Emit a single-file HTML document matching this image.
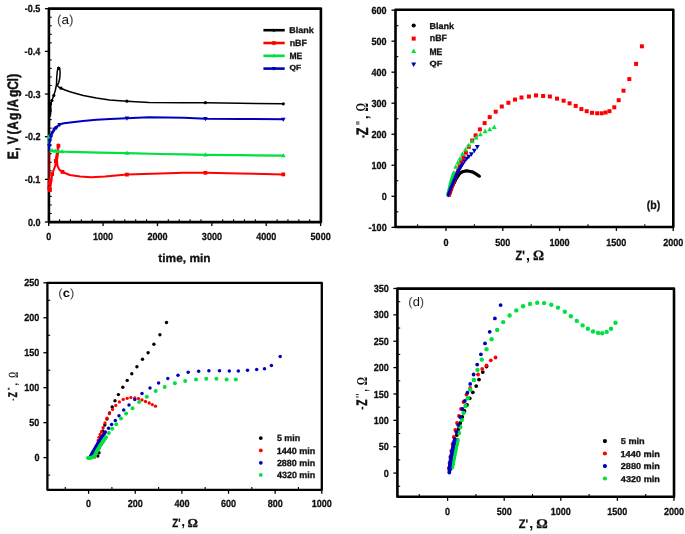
<!DOCTYPE html>
<html><head><meta charset="utf-8"><title>Figure</title>
<style>html,body{margin:0;padding:0;background:#fff;}body{width:685px;height:534px;overflow:hidden;font-family:"Liberation Sans",sans-serif;}svg{display:block;}</style>
</head><body>
<svg width="685" height="534" viewBox="0 0 685 534" style="will-change:transform" text-rendering="geometricPrecision">
<rect x="0" y="0" width="685" height="534" fill="#fff"/>
<rect x="48.9" y="8.6" width="272" height="213.5" fill="none" stroke="#000" stroke-linejoin="round" stroke-width="2.6"/>
<line x1="48.7" y1="222.1" x2="48.7" y2="226.1" stroke="#000" stroke-width="1.3"/>
<text transform="translate(46.21,240.01) scale(0.880,1)" font-family='"Liberation Sans", sans-serif' font-size="10.3" font-weight="bold" fill="#111" stroke="#111" stroke-width="0.3">0</text>
<line x1="59.58" y1="222.1" x2="59.58" y2="219.3" stroke="#000" stroke-width="1.1"/>
<line x1="70.45" y1="222.1" x2="70.45" y2="219.3" stroke="#000" stroke-width="1.1"/>
<line x1="81.33" y1="222.1" x2="81.33" y2="219.3" stroke="#000" stroke-width="1.1"/>
<line x1="92.2" y1="222.1" x2="92.2" y2="219.3" stroke="#000" stroke-width="1.1"/>
<line x1="103.08" y1="222.1" x2="103.08" y2="226.1" stroke="#000" stroke-width="1.3"/>
<text transform="translate(92.93,240.01) scale(0.880,1)" font-family='"Liberation Sans", sans-serif' font-size="10.3" font-weight="bold" fill="#111" stroke="#111" stroke-width="0.3">1000</text>
<line x1="113.96" y1="222.1" x2="113.96" y2="219.3" stroke="#000" stroke-width="1.1"/>
<line x1="124.83" y1="222.1" x2="124.83" y2="219.3" stroke="#000" stroke-width="1.1"/>
<line x1="135.71" y1="222.1" x2="135.71" y2="219.3" stroke="#000" stroke-width="1.1"/>
<line x1="146.58" y1="222.1" x2="146.58" y2="219.3" stroke="#000" stroke-width="1.1"/>
<line x1="157.46" y1="222.1" x2="157.46" y2="226.1" stroke="#000" stroke-width="1.3"/>
<text transform="translate(147.44,240.01) scale(0.880,1)" font-family='"Liberation Sans", sans-serif' font-size="10.3" font-weight="bold" fill="#111" stroke="#111" stroke-width="0.3">2000</text>
<line x1="168.34" y1="222.1" x2="168.34" y2="219.3" stroke="#000" stroke-width="1.1"/>
<line x1="179.21" y1="222.1" x2="179.21" y2="219.3" stroke="#000" stroke-width="1.1"/>
<line x1="190.09" y1="222.1" x2="190.09" y2="219.3" stroke="#000" stroke-width="1.1"/>
<line x1="200.96" y1="222.1" x2="200.96" y2="219.3" stroke="#000" stroke-width="1.1"/>
<line x1="211.84" y1="222.1" x2="211.84" y2="226.1" stroke="#000" stroke-width="1.3"/>
<text transform="translate(201.87,240.01) scale(0.880,1)" font-family='"Liberation Sans", sans-serif' font-size="10.3" font-weight="bold" fill="#111" stroke="#111" stroke-width="0.3">3000</text>
<line x1="222.72" y1="222.1" x2="222.72" y2="219.3" stroke="#000" stroke-width="1.1"/>
<line x1="233.59" y1="222.1" x2="233.59" y2="219.3" stroke="#000" stroke-width="1.1"/>
<line x1="244.47" y1="222.1" x2="244.47" y2="219.3" stroke="#000" stroke-width="1.1"/>
<line x1="255.34" y1="222.1" x2="255.34" y2="219.3" stroke="#000" stroke-width="1.1"/>
<line x1="266.22" y1="222.1" x2="266.22" y2="226.1" stroke="#000" stroke-width="1.3"/>
<text transform="translate(256.25,240.01) scale(0.880,1)" font-family='"Liberation Sans", sans-serif' font-size="10.3" font-weight="bold" fill="#111" stroke="#111" stroke-width="0.3">4000</text>
<line x1="277.1" y1="222.1" x2="277.1" y2="219.3" stroke="#000" stroke-width="1.1"/>
<line x1="287.97" y1="222.1" x2="287.97" y2="219.3" stroke="#000" stroke-width="1.1"/>
<line x1="298.85" y1="222.1" x2="298.85" y2="219.3" stroke="#000" stroke-width="1.1"/>
<line x1="309.72" y1="222.1" x2="309.72" y2="219.3" stroke="#000" stroke-width="1.1"/>
<line x1="320.6" y1="222.1" x2="320.6" y2="226.1" stroke="#000" stroke-width="1.3"/>
<text transform="translate(310.58,240.01) scale(0.880,1)" font-family='"Liberation Sans", sans-serif' font-size="10.3" font-weight="bold" fill="#111" stroke="#111" stroke-width="0.3">5000</text>
<line x1="44.9" y1="222" x2="48.9" y2="222" stroke="#000" stroke-width="1.3"/>
<text transform="translate(27.96,225.55) scale(0.880,1)" font-family='"Liberation Sans", sans-serif' font-size="10.3" font-weight="bold" fill="#111" stroke="#111" stroke-width="0.3">0.0</text>
<line x1="48.9" y1="213.47" x2="51.7" y2="213.47" stroke="#000" stroke-width="1.1"/>
<line x1="48.9" y1="204.94" x2="51.7" y2="204.94" stroke="#000" stroke-width="1.1"/>
<line x1="48.9" y1="196.4" x2="51.7" y2="196.4" stroke="#000" stroke-width="1.1"/>
<line x1="48.9" y1="187.87" x2="51.7" y2="187.87" stroke="#000" stroke-width="1.1"/>
<line x1="44.9" y1="179.34" x2="48.9" y2="179.34" stroke="#000" stroke-width="1.3"/>
<text transform="translate(24.79,182.89) scale(0.880,1)" font-family='"Liberation Sans", sans-serif' font-size="10.3" font-weight="bold" fill="#111" stroke="#111" stroke-width="0.3">-0.1</text>
<line x1="48.9" y1="170.81" x2="51.7" y2="170.81" stroke="#000" stroke-width="1.1"/>
<line x1="48.9" y1="162.28" x2="51.7" y2="162.28" stroke="#000" stroke-width="1.1"/>
<line x1="48.9" y1="153.74" x2="51.7" y2="153.74" stroke="#000" stroke-width="1.1"/>
<line x1="48.9" y1="145.21" x2="51.7" y2="145.21" stroke="#000" stroke-width="1.1"/>
<line x1="44.9" y1="136.68" x2="48.9" y2="136.68" stroke="#000" stroke-width="1.3"/>
<text transform="translate(24.97,140.23) scale(0.880,1)" font-family='"Liberation Sans", sans-serif' font-size="10.3" font-weight="bold" fill="#111" stroke="#111" stroke-width="0.3">-0.2</text>
<line x1="48.9" y1="128.15" x2="51.7" y2="128.15" stroke="#000" stroke-width="1.1"/>
<line x1="48.9" y1="119.62" x2="51.7" y2="119.62" stroke="#000" stroke-width="1.1"/>
<line x1="48.9" y1="111.08" x2="51.7" y2="111.08" stroke="#000" stroke-width="1.1"/>
<line x1="48.9" y1="102.55" x2="51.7" y2="102.55" stroke="#000" stroke-width="1.1"/>
<line x1="44.9" y1="94.02" x2="48.9" y2="94.02" stroke="#000" stroke-width="1.3"/>
<text transform="translate(24.88,97.57) scale(0.880,1)" font-family='"Liberation Sans", sans-serif' font-size="10.3" font-weight="bold" fill="#111" stroke="#111" stroke-width="0.3">-0.3</text>
<line x1="48.9" y1="85.49" x2="51.7" y2="85.49" stroke="#000" stroke-width="1.1"/>
<line x1="48.9" y1="76.96" x2="51.7" y2="76.96" stroke="#000" stroke-width="1.1"/>
<line x1="48.9" y1="68.42" x2="51.7" y2="68.42" stroke="#000" stroke-width="1.1"/>
<line x1="48.9" y1="59.89" x2="51.7" y2="59.89" stroke="#000" stroke-width="1.1"/>
<line x1="44.9" y1="51.36" x2="48.9" y2="51.36" stroke="#000" stroke-width="1.3"/>
<text transform="translate(24.61,54.91) scale(0.880,1)" font-family='"Liberation Sans", sans-serif' font-size="10.3" font-weight="bold" fill="#111" stroke="#111" stroke-width="0.3">-0.4</text>
<line x1="48.9" y1="42.83" x2="51.7" y2="42.83" stroke="#000" stroke-width="1.1"/>
<line x1="48.9" y1="34.3" x2="51.7" y2="34.3" stroke="#000" stroke-width="1.1"/>
<line x1="48.9" y1="25.76" x2="51.7" y2="25.76" stroke="#000" stroke-width="1.1"/>
<line x1="48.9" y1="17.23" x2="51.7" y2="17.23" stroke="#000" stroke-width="1.1"/>
<line x1="44.9" y1="8.7" x2="48.9" y2="8.7" stroke="#000" stroke-width="1.3"/>
<text transform="translate(24.79,12.25) scale(0.880,1)" font-family='"Liberation Sans", sans-serif' font-size="10.3" font-weight="bold" fill="#111" stroke="#111" stroke-width="0.3">-0.5</text>
<polyline points="49.2,150 49.3,130 49.5,116 50.2,108 50.6,103.5 50,108 49.6,114 50.3,116 51,110 50.6,103.5 51.9,100.6 53.8,95.4 55.3,90.5 56.5,84.5 56.7,78 57.2,72 58,68 58.7,67.2 59.6,68 60.1,72 59.8,78 58.6,83 57.3,85.5 58.5,86.8 61,88.2 65,90 70,91.8 76,93.5 83.3,95.4 96.4,98 109.5,99.9 126.9,101.2 148.9,102.5 184,102.7 205.4,102.7 240,103.2 283.3,103.8" fill="none" stroke="#000" stroke-width="1.5" stroke-linejoin="round" stroke-linecap="round"/>
<line x1="49.1" y1="151.5" x2="49.1" y2="184" stroke="#700" stroke-width="2.2"/>
<polyline points="49.5,188 50.5,186 51.5,179 52.2,174 53.7,169.9 55.3,165.7 56,158 57.5,150 58.4,144.5 58.2,152 57,160 57.5,166 59.4,169.9 62.5,171.9 66,173.5 69.7,175 80,176.5 91.2,177.2 105,176.5 126.9,174.6 160,173.5 184,172.7 205.4,172.8 240,173.4 283.3,174.4" fill="none" stroke="#f00" stroke-width="2" stroke-linejoin="round" stroke-linecap="round"/>
<polyline points="48.6,136.3 49,145 49.6,150.5 52,150.5 55.2,151 60,151.5 70.2,151.8 100,152.6 126.9,153.1 160,154 184,154.4 205.4,154.8 240,155.2 283.3,155.7" fill="none" stroke="#00e040" stroke-width="2.2" stroke-linejoin="round" stroke-linecap="round"/>
<polyline points="48.9,150.3 49.6,139 50.5,135 52.4,132 54.5,128.2 56.6,126.8 59.7,124.2 64,123.2 70.2,122.4 83,121 96.4,119.8 110,119 126.9,118.2 148.9,117.2 184,117.7 205.4,118.7 240,119 283.3,119.3" fill="none" stroke="#00b" stroke-width="2" stroke-linejoin="round" stroke-linecap="round"/>
<circle cx="126.9" cy="101.2" r="1.6" fill="#000"/>
<circle cx="205.4" cy="102.7" r="1.6" fill="#000"/>
<circle cx="283.3" cy="103.8" r="1.6" fill="#000"/>
<circle cx="61" cy="88.2" r="1.6" fill="#000"/>
<circle cx="53.8" cy="95.4" r="1.6" fill="#000"/>
<circle cx="51.9" cy="100.6" r="1.6" fill="#000"/>
<circle cx="50.6" cy="104" r="1.6" fill="#000"/>
<circle cx="58.6" cy="68.3" r="1.6" fill="#000"/>
<rect x="125" y="172.7" width="3.8" height="3.8" fill="#f00"/>
<rect x="203.5" y="170.9" width="3.8" height="3.8" fill="#f00"/>
<rect x="281.4" y="172.5" width="3.8" height="3.8" fill="#f00"/>
<rect x="60.6" y="170" width="3.8" height="3.8" fill="#f00"/>
<rect x="56.5" y="143.9" width="3.8" height="3.8" fill="#f00"/>
<rect x="53.9" y="159.1" width="3.8" height="3.8" fill="#f00"/>
<rect x="50.3" y="172.1" width="3.8" height="3.8" fill="#f00"/>
<rect x="48.6" y="178.1" width="3.8" height="3.8" fill="#f00"/>
<rect x="47.6" y="181.6" width="3.8" height="3.8" fill="#f00"/>
<rect x="47.3" y="186.1" width="3.8" height="3.8" fill="#f00"/>
<rect x="48.1" y="188.1" width="3.8" height="3.8" fill="#f00"/>
<polygon points="126.9,150.62 124.6,154.76 129.2,154.76" fill="#00e040"/>
<polygon points="205.4,152.32 203.1,156.46 207.7,156.46" fill="#00e040"/>
<polygon points="283.3,153.22 281,157.36 285.6,157.36" fill="#00e040"/>
<polygon points="49,134.02 46.7,138.16 51.3,138.16" fill="#00e040"/>
<polygon points="52,148.02 49.7,152.16 54.3,152.16" fill="#00e040"/>
<polygon points="55.2,148.52 52.9,152.66 57.5,152.66" fill="#00e040"/>
<polygon points="58,148.82 55.7,152.96 60.3,152.96" fill="#00e040"/>
<polygon points="62,149.02 59.7,153.16 64.3,153.16" fill="#00e040"/>
<polygon points="126.9,120.68 124.6,116.54 129.2,116.54" fill="#00b"/>
<polygon points="205.4,121.18 203.1,117.04 207.7,117.04" fill="#00b"/>
<polygon points="283.3,121.78 281,117.64 285.6,117.64" fill="#00b"/>
<polygon points="49.3,148.48 47,144.34 51.6,144.34" fill="#00b"/>
<polygon points="50,143.48 47.7,139.34 52.3,139.34" fill="#00b"/>
<polygon points="51,139.48 48.7,135.34 53.3,135.34" fill="#00b"/>
<polygon points="52.4,135.48 50.1,131.34 54.7,131.34" fill="#00b"/>
<polygon points="54.5,131.98 52.2,127.84 56.8,127.84" fill="#00b"/>
<polygon points="56.6,130.08 54.3,125.94 58.9,125.94" fill="#00b"/>
<polygon points="59.7,127.18 57.4,123.04 62,123.04" fill="#00b"/>
<line x1="263.4" y1="30.2" x2="284.7" y2="30.2" stroke="#000" stroke-width="2.6"/>
<circle cx="273.9" cy="30.2" r="1.5" fill="#000"/>
<text transform="translate(289.32,33.37) scale(1.072,1)" font-family='"Liberation Sans", sans-serif' font-size="8.38" font-weight="bold" fill="#111" stroke="#111" stroke-width="0.3">Blank</text>
<line x1="263.4" y1="43" x2="284.7" y2="43" stroke="#f00" stroke-width="2.6"/>
<rect x="272.1" y="41.2" width="3.6" height="3.6" fill="#f00"/>
<text transform="translate(289.63,45.65) scale(0.992,1)" font-family='"Liberation Sans", sans-serif' font-size="8.99" font-weight="bold" fill="#111" stroke="#111" stroke-width="0.3">nBF</text>
<line x1="263.4" y1="55.8" x2="284.7" y2="55.8" stroke="#00e040" stroke-width="2.6"/>
<polygon points="273.9,53.53 271.8,57.31 276,57.31" fill="#00e040"/>
<text transform="translate(289.45,58.65) scale(0.923,1)" font-family='"Liberation Sans", sans-serif' font-size="9.28" font-weight="bold" fill="#111" stroke="#111" stroke-width="0.3">ME</text>
<line x1="263.4" y1="68.6" x2="284.7" y2="68.6" stroke="#00b" stroke-width="2.6"/>
<polygon points="273.9,70.87 271.8,67.09 276,67.09" fill="#00b"/>
<text transform="translate(289.51,69.98) scale(1.145,1)" font-family='"Liberation Sans", sans-serif' font-size="7.33" font-weight="bold" fill="#111" stroke="#111" stroke-width="0.3">QF</text>
<text transform="translate(56.99,23.57) scale(1.044,1)" font-family='"Liberation Sans", sans-serif' font-size="12.98" font-weight="normal" fill="#444">(<tspan fill="#111">a</tspan>)</text>
<text transform="translate(158.33,261.91) scale(1.027,1)" font-family='"Liberation Sans", sans-serif' font-size="11.59" font-weight="bold" fill="#111" stroke="#111" stroke-width="0.3">time, min</text>
<text transform="translate(17.8,158.44) rotate(-90) scale(0.8,1)" font-family='"Liberation Sans", sans-serif' font-size="15" font-weight="bold" fill="#111" stroke="#111" stroke-width="0.45" letter-spacing="0.87" dx="-0.94 -0.19 0 -2 1.25 0 0.63 1.06 -0.63 1.31 -0.75 -1.38 -0.63">E, V(Ag/AgCl)</text>
<rect x="395.5" y="9.8" width="277.8" height="217.2" fill="none" stroke="#000" stroke-linejoin="round" stroke-width="2.6"/>
<line x1="417.6" y1="227" x2="417.6" y2="224.2" stroke="#000" stroke-width="1.1"/>
<line x1="446" y1="227" x2="446" y2="231" stroke="#000" stroke-width="1.3"/>
<text transform="translate(443.51,245.91) scale(0.880,1)" font-family='"Liberation Sans", sans-serif' font-size="10.3" font-weight="bold" fill="#111" stroke="#111" stroke-width="0.3">0</text>
<line x1="474.4" y1="227" x2="474.4" y2="224.2" stroke="#000" stroke-width="1.1"/>
<line x1="502.8" y1="227" x2="502.8" y2="231" stroke="#000" stroke-width="1.3"/>
<text transform="translate(495.28,245.91) scale(0.880,1)" font-family='"Liberation Sans", sans-serif' font-size="10.3" font-weight="bold" fill="#111" stroke="#111" stroke-width="0.3">500</text>
<line x1="531.2" y1="227" x2="531.2" y2="224.2" stroke="#000" stroke-width="1.1"/>
<line x1="559.6" y1="227" x2="559.6" y2="231" stroke="#000" stroke-width="1.3"/>
<text transform="translate(549.45,245.91) scale(0.880,1)" font-family='"Liberation Sans", sans-serif' font-size="10.3" font-weight="bold" fill="#111" stroke="#111" stroke-width="0.3">1000</text>
<line x1="588" y1="227" x2="588" y2="224.2" stroke="#000" stroke-width="1.1"/>
<line x1="616.4" y1="227" x2="616.4" y2="231" stroke="#000" stroke-width="1.3"/>
<text transform="translate(606.25,245.91) scale(0.880,1)" font-family='"Liberation Sans", sans-serif' font-size="10.3" font-weight="bold" fill="#111" stroke="#111" stroke-width="0.3">1500</text>
<line x1="644.8" y1="227" x2="644.8" y2="224.2" stroke="#000" stroke-width="1.1"/>
<line x1="673.2" y1="227" x2="673.2" y2="231" stroke="#000" stroke-width="1.3"/>
<text transform="translate(663.18,245.91) scale(0.880,1)" font-family='"Liberation Sans", sans-serif' font-size="10.3" font-weight="bold" fill="#111" stroke="#111" stroke-width="0.3">2000</text>
<line x1="391.5" y1="227.33" x2="395.5" y2="227.33" stroke="#000" stroke-width="1.3"/>
<text transform="translate(368.53,230.88) scale(0.880,1)" font-family='"Liberation Sans", sans-serif' font-size="10.3" font-weight="bold" fill="#111" stroke="#111" stroke-width="0.3">-100</text>
<line x1="395.5" y1="211.81" x2="398.3" y2="211.81" stroke="#000" stroke-width="1.1"/>
<line x1="391.5" y1="196.3" x2="395.5" y2="196.3" stroke="#000" stroke-width="1.3"/>
<text transform="translate(381.68,199.85) scale(0.880,1)" font-family='"Liberation Sans", sans-serif' font-size="10.3" font-weight="bold" fill="#111" stroke="#111" stroke-width="0.3">0</text>
<line x1="395.5" y1="180.79" x2="398.3" y2="180.79" stroke="#000" stroke-width="1.1"/>
<line x1="391.5" y1="165.27" x2="395.5" y2="165.27" stroke="#000" stroke-width="1.3"/>
<text transform="translate(371.53,168.82) scale(0.880,1)" font-family='"Liberation Sans", sans-serif' font-size="10.3" font-weight="bold" fill="#111" stroke="#111" stroke-width="0.3">100</text>
<line x1="395.5" y1="149.76" x2="398.3" y2="149.76" stroke="#000" stroke-width="1.1"/>
<line x1="391.5" y1="134.24" x2="395.5" y2="134.24" stroke="#000" stroke-width="1.3"/>
<text transform="translate(371.53,137.8) scale(0.880,1)" font-family='"Liberation Sans", sans-serif' font-size="10.3" font-weight="bold" fill="#111" stroke="#111" stroke-width="0.3">200</text>
<line x1="395.5" y1="118.73" x2="398.3" y2="118.73" stroke="#000" stroke-width="1.1"/>
<line x1="391.5" y1="103.21" x2="395.5" y2="103.21" stroke="#000" stroke-width="1.3"/>
<text transform="translate(371.53,106.77) scale(0.880,1)" font-family='"Liberation Sans", sans-serif' font-size="10.3" font-weight="bold" fill="#111" stroke="#111" stroke-width="0.3">300</text>
<line x1="395.5" y1="87.7" x2="398.3" y2="87.7" stroke="#000" stroke-width="1.1"/>
<line x1="391.5" y1="72.19" x2="395.5" y2="72.19" stroke="#000" stroke-width="1.3"/>
<text transform="translate(371.53,75.74) scale(0.880,1)" font-family='"Liberation Sans", sans-serif' font-size="10.3" font-weight="bold" fill="#111" stroke="#111" stroke-width="0.3">400</text>
<line x1="395.5" y1="56.67" x2="398.3" y2="56.67" stroke="#000" stroke-width="1.1"/>
<line x1="391.5" y1="41.16" x2="395.5" y2="41.16" stroke="#000" stroke-width="1.3"/>
<text transform="translate(371.53,44.71) scale(0.880,1)" font-family='"Liberation Sans", sans-serif' font-size="10.3" font-weight="bold" fill="#111" stroke="#111" stroke-width="0.3">500</text>
<line x1="395.5" y1="25.64" x2="398.3" y2="25.64" stroke="#000" stroke-width="1.1"/>
<line x1="391.5" y1="10.13" x2="395.5" y2="10.13" stroke="#000" stroke-width="1.3"/>
<text transform="translate(371.53,13.68) scale(0.880,1)" font-family='"Liberation Sans", sans-serif' font-size="10.3" font-weight="bold" fill="#111" stroke="#111" stroke-width="0.3">600</text>
<circle cx="448.4" cy="195.3" r="1.6" fill="#000"/>
<circle cx="448.88" cy="194.2" r="1.6" fill="#000"/>
<circle cx="449.35" cy="193.1" r="1.6" fill="#000"/>
<circle cx="449.82" cy="192" r="1.6" fill="#000"/>
<circle cx="450.3" cy="190.9" r="1.6" fill="#000"/>
<circle cx="450.77" cy="189.8" r="1.6" fill="#000"/>
<circle cx="451.25" cy="188.7" r="1.6" fill="#000"/>
<circle cx="451.72" cy="187.6" r="1.6" fill="#000"/>
<circle cx="452.2" cy="186.5" r="1.6" fill="#000"/>
<circle cx="452.74" cy="185.43" r="1.6" fill="#000"/>
<circle cx="453.29" cy="184.36" r="1.6" fill="#000"/>
<circle cx="453.83" cy="183.29" r="1.6" fill="#000"/>
<circle cx="454.37" cy="182.21" r="1.6" fill="#000"/>
<circle cx="454.91" cy="181.14" r="1.6" fill="#000"/>
<circle cx="455.46" cy="180.07" r="1.6" fill="#000"/>
<circle cx="456" cy="179" r="1.6" fill="#000"/>
<circle cx="456.72" cy="177.92" r="1.6" fill="#000"/>
<circle cx="457.44" cy="176.84" r="1.6" fill="#000"/>
<circle cx="458.16" cy="175.76" r="1.6" fill="#000"/>
<circle cx="458.88" cy="174.68" r="1.6" fill="#000"/>
<circle cx="459.6" cy="173.6" r="1.6" fill="#000"/>
<circle cx="460.43" cy="173" r="1.6" fill="#000"/>
<circle cx="461.27" cy="172.4" r="1.6" fill="#000"/>
<circle cx="462.1" cy="171.8" r="1.6" fill="#000"/>
<circle cx="463.07" cy="171.53" r="1.6" fill="#000"/>
<circle cx="464.03" cy="171.27" r="1.6" fill="#000"/>
<circle cx="465" cy="171" r="1.6" fill="#000"/>
<circle cx="466.1" cy="170.95" r="1.6" fill="#000"/>
<circle cx="467.2" cy="170.9" r="1.6" fill="#000"/>
<circle cx="468.6" cy="171.1" r="1.6" fill="#000"/>
<circle cx="470" cy="171.3" r="1.6" fill="#000"/>
<circle cx="471.03" cy="171.6" r="1.6" fill="#000"/>
<circle cx="472.07" cy="171.9" r="1.6" fill="#000"/>
<circle cx="473.1" cy="172.2" r="1.6" fill="#000"/>
<circle cx="474.07" cy="172.77" r="1.6" fill="#000"/>
<circle cx="475.03" cy="173.33" r="1.6" fill="#000"/>
<circle cx="476" cy="173.9" r="1.6" fill="#000"/>
<circle cx="477.1" cy="174.67" r="1.6" fill="#000"/>
<circle cx="478.2" cy="175.43" r="1.6" fill="#000"/>
<circle cx="479.3" cy="176.2" r="1.6" fill="#000"/>
<rect x="448" y="193.8" width="3" height="3" fill="#f00"/>
<rect x="448.5" y="192.37" width="3" height="3" fill="#f00"/>
<rect x="449" y="190.93" width="3" height="3" fill="#f00"/>
<rect x="449.5" y="189.5" width="3" height="3" fill="#f00"/>
<rect x="450" y="188" width="3" height="3" fill="#f00"/>
<rect x="450.5" y="186.5" width="3" height="3" fill="#f00"/>
<rect x="451" y="185" width="3" height="3" fill="#f00"/>
<rect x="451.5" y="183.5" width="3" height="3" fill="#f00"/>
<rect x="452" y="182" width="3" height="3" fill="#f00"/>
<rect x="452.5" y="180.5" width="3" height="3" fill="#f00"/>
<rect x="453" y="179" width="3" height="3" fill="#f00"/>
<rect x="453.5" y="177.5" width="3" height="3" fill="#f00"/>
<rect x="454" y="176" width="3" height="3" fill="#f00"/>
<rect x="454.43" y="174.67" width="3" height="3" fill="#f00"/>
<rect x="454.87" y="173.33" width="3" height="3" fill="#f00"/>
<rect x="455.3" y="172" width="3" height="3" fill="#f00"/>
<rect x="455.77" y="170.67" width="3" height="3" fill="#f00"/>
<rect x="456.23" y="169.33" width="3" height="3" fill="#f00"/>
<rect x="456.7" y="168" width="3" height="3" fill="#f00"/>
<rect x="457.6" y="164.2" width="4" height="4" fill="#f00"/>
<rect x="459.3" y="159.5" width="4" height="4" fill="#f00"/>
<rect x="461.4" y="155.3" width="4" height="4" fill="#f00"/>
<rect x="463.9" y="150.7" width="4" height="4" fill="#f00"/>
<rect x="466.8" y="144.8" width="4" height="4" fill="#f00"/>
<rect x="470.2" y="138.5" width="4" height="4" fill="#f00"/>
<rect x="473.6" y="133.4" width="4" height="4" fill="#f00"/>
<rect x="477.9" y="127.4" width="4" height="4" fill="#f00"/>
<rect x="482.6" y="121.1" width="4" height="4" fill="#f00"/>
<rect x="487.7" y="115.1" width="4" height="4" fill="#f00"/>
<rect x="493.7" y="109.7" width="4" height="4" fill="#f00"/>
<rect x="499.8" y="104.5" width="4" height="4" fill="#f00"/>
<rect x="506.4" y="100.8" width="4" height="4" fill="#f00"/>
<rect x="513" y="97.6" width="4" height="4" fill="#f00"/>
<rect x="519.5" y="95.5" width="4" height="4" fill="#f00"/>
<rect x="526.9" y="94.5" width="4" height="4" fill="#f00"/>
<rect x="534" y="93.4" width="4" height="4" fill="#f00"/>
<rect x="541.1" y="94" width="4" height="4" fill="#f00"/>
<rect x="547.9" y="94.5" width="4" height="4" fill="#f00"/>
<rect x="555" y="96.6" width="4" height="4" fill="#f00"/>
<rect x="561.6" y="98.7" width="4" height="4" fill="#f00"/>
<rect x="567.6" y="101.3" width="4" height="4" fill="#f00"/>
<rect x="573.7" y="103.9" width="4" height="4" fill="#f00"/>
<rect x="579.4" y="107.1" width="4" height="4" fill="#f00"/>
<rect x="584.7" y="109.2" width="4" height="4" fill="#f00"/>
<rect x="590" y="110.8" width="4" height="4" fill="#f00"/>
<rect x="595.2" y="111.3" width="4" height="4" fill="#f00"/>
<rect x="599.7" y="111.3" width="4" height="4" fill="#f00"/>
<rect x="603.6" y="110.5" width="4" height="4" fill="#f00"/>
<rect x="607.5" y="109.2" width="4" height="4" fill="#f00"/>
<rect x="612.3" y="105.3" width="4" height="4" fill="#f00"/>
<rect x="616.7" y="98.2" width="4" height="4" fill="#f00"/>
<rect x="621.5" y="88.7" width="4" height="4" fill="#f00"/>
<rect x="627.3" y="77.1" width="4" height="4" fill="#f00"/>
<rect x="634.1" y="61.9" width="4" height="4" fill="#f00"/>
<rect x="639.9" y="44.3" width="4" height="4" fill="#f00"/>
<polygon points="447.8,192.34 445.8,195.94 449.8,195.94" fill="#00e040"/>
<polygon points="448.13,190.84 446.13,194.44 450.13,194.44" fill="#00e040"/>
<polygon points="448.47,189.34 446.47,192.94 450.47,192.94" fill="#00e040"/>
<polygon points="448.8,187.84 446.8,191.44 450.8,191.44" fill="#00e040"/>
<polygon points="449.07,186.59 447.07,190.19 451.07,190.19" fill="#00e040"/>
<polygon points="449.35,185.34 447.35,188.94 451.35,188.94" fill="#00e040"/>
<polygon points="449.62,184.09 447.62,187.69 451.62,187.69" fill="#00e040"/>
<polygon points="449.9,182.84 447.9,186.44 451.9,186.44" fill="#00e040"/>
<polygon points="450.2,181.59 448.2,185.19 452.2,185.19" fill="#00e040"/>
<polygon points="450.5,180.34 448.5,183.94 452.5,183.94" fill="#00e040"/>
<polygon points="450.8,179.09 448.8,182.69 452.8,182.69" fill="#00e040"/>
<polygon points="451.1,177.84 449.1,181.44 453.1,181.44" fill="#00e040"/>
<polygon points="451.53,176.51 449.53,180.11 453.53,180.11" fill="#00e040"/>
<polygon points="451.97,175.17 449.97,178.77 453.97,178.77" fill="#00e040"/>
<polygon points="452.4,173.84 450.4,177.44 454.4,177.44" fill="#00e040"/>
<polygon points="452.87,172.54 450.87,176.14 454.87,176.14" fill="#00e040"/>
<polygon points="453.33,171.24 451.33,174.84 455.33,174.84" fill="#00e040"/>
<polygon points="453.8,169.94 451.8,173.54 455.8,173.54" fill="#00e040"/>
<polygon points="455.8,164.3 453.3,168.8 458.3,168.8" fill="#00e040"/>
<polygon points="457.9,160.1 455.4,164.6 460.4,164.6" fill="#00e040"/>
<polygon points="460,155.9 457.5,160.4 462.5,160.4" fill="#00e040"/>
<polygon points="462.5,151.3 460,155.8 465,155.8" fill="#00e040"/>
<polygon points="465.5,147 463,151.5 468,151.5" fill="#00e040"/>
<polygon points="468.8,142.8 466.3,147.3 471.3,147.3" fill="#00e040"/>
<polygon points="472.2,138.8 469.7,143.3 474.7,143.3" fill="#00e040"/>
<polygon points="476.2,135.1 473.7,139.6 478.7,139.6" fill="#00e040"/>
<polygon points="480.4,131.7 477.9,136.2 482.9,136.2" fill="#00e040"/>
<polygon points="485.1,128.8 482.6,133.3 487.6,133.3" fill="#00e040"/>
<polygon points="489.7,126.7 487.2,131.2 492.2,131.2" fill="#00e040"/>
<polygon points="494.2,124.5 491.7,129 496.7,129" fill="#00e040"/>
<polygon points="448.3,197.46 446.3,193.86 450.3,193.86" fill="#00b"/>
<polygon points="448.7,196.4 446.7,192.8 450.7,192.8" fill="#00b"/>
<polygon points="449.1,195.34 447.1,191.74 451.1,191.74" fill="#00b"/>
<polygon points="449.5,194.28 447.5,190.68 451.5,190.68" fill="#00b"/>
<polygon points="449.9,193.22 447.9,189.62 451.9,189.62" fill="#00b"/>
<polygon points="450.3,192.16 448.3,188.56 452.3,188.56" fill="#00b"/>
<polygon points="450.8,190.91 448.8,187.31 452.8,187.31" fill="#00b"/>
<polygon points="451.3,189.66 449.3,186.06 453.3,186.06" fill="#00b"/>
<polygon points="451.8,188.41 449.8,184.81 453.8,184.81" fill="#00b"/>
<polygon points="452.3,187.16 450.3,183.56 454.3,183.56" fill="#00b"/>
<polygon points="452.8,185.98 450.8,182.38 454.8,182.38" fill="#00b"/>
<polygon points="453.3,184.81 451.3,181.21 455.3,181.21" fill="#00b"/>
<polygon points="453.8,183.64 451.8,180.04 455.8,180.04" fill="#00b"/>
<polygon points="454.3,182.46 452.3,178.86 456.3,178.86" fill="#00b"/>
<polygon points="454.8,181.34 452.8,177.74 456.8,177.74" fill="#00b"/>
<polygon points="455.3,180.21 453.3,176.61 457.3,176.61" fill="#00b"/>
<polygon points="455.8,179.09 453.8,175.49 457.8,175.49" fill="#00b"/>
<polygon points="456.3,177.96 454.3,174.36 458.3,174.36" fill="#00b"/>
<polygon points="456.8,176.91 454.8,173.31 458.8,173.31" fill="#00b"/>
<polygon points="457.3,175.86 455.3,172.26 459.3,172.26" fill="#00b"/>
<polygon points="457.8,174.81 455.8,171.21 459.8,171.21" fill="#00b"/>
<polygon points="458.3,173.76 456.3,170.16 460.3,170.16" fill="#00b"/>
<polygon points="458.97,172.56 456.97,168.96 460.97,168.96" fill="#00b"/>
<polygon points="459.63,171.36 457.63,167.76 461.63,167.76" fill="#00b"/>
<polygon points="460.3,170.16 458.3,166.56 462.3,166.56" fill="#00b"/>
<polygon points="461,169.06 459,165.46 463,165.46" fill="#00b"/>
<polygon points="461.7,167.96 459.7,164.36 463.7,164.36" fill="#00b"/>
<polygon points="462.35,166.86 460.35,163.26 464.35,163.26" fill="#00b"/>
<polygon points="463,165.76 461,162.16 465,162.16" fill="#00b"/>
<polygon points="464.6,163.8 462.1,159.3 467.1,159.3" fill="#00b"/>
<polygon points="466.7,161.3 464.2,156.8 469.2,156.8" fill="#00b"/>
<polygon points="468.8,159.2 466.3,154.7 471.3,154.7" fill="#00b"/>
<polygon points="471.4,156.7 468.9,152.2 473.9,152.2" fill="#00b"/>
<polygon points="474.3,153.3 471.8,148.8 476.8,148.8" fill="#00b"/>
<polygon points="477.3,149.5 474.8,145 479.8,145" fill="#00b"/>
<circle cx="413.7" cy="25.5" r="2.1" fill="#000"/>
<text transform="translate(429.42,28.56) scale(1.043,1)" font-family='"Liberation Sans", sans-serif' font-size="8.65" font-weight="bold" fill="#111" stroke="#111" stroke-width="0.3">Blank</text>
<rect x="411.7" y="36.6" width="4" height="4" fill="#f00"/>
<text transform="translate(429.73,41.25) scale(0.955,1)" font-family='"Liberation Sans", sans-serif' font-size="9.28" font-weight="bold" fill="#111" stroke="#111" stroke-width="0.3">nBF</text>
<polygon points="413.7,48.6 411.2,53.1 416.2,53.1" fill="#00e040"/>
<text transform="translate(429.45,54.65) scale(0.895,1)" font-family='"Liberation Sans", sans-serif' font-size="9.57" font-weight="bold" fill="#111" stroke="#111" stroke-width="0.3">ME</text>
<polygon points="413.7,66.9 411.2,62.4 416.2,62.4" fill="#00b"/>
<text transform="translate(429.48,65.76) scale(1.241,1)" font-family='"Liberation Sans", sans-serif' font-size="7.44" font-weight="bold" fill="#111" stroke="#111" stroke-width="0.3">QF</text>
<text transform="translate(646.82,208.99) scale(0.905,1)" font-family='"Liberation Sans", sans-serif' font-size="11.7" font-weight="bold" fill="#111" stroke="#111" stroke-width="0.3">(b)</text>
<rect x="362.3" y="135.4" width="2.2" height="2.2" fill="#111"/>
<text transform="translate(367.55,135.33) rotate(-90) scale(0.770,1)" font-family='"Liberation Sans", sans-serif' font-size="16.52" font-weight="bold" fill="#111" stroke="#111" stroke-width="0.5">Z</text>
<rect x="356" y="121.6" width="3.4" height="1" fill="#222"/>
<rect x="356" y="123.5" width="3.4" height="1" fill="#222"/>
<text transform="translate(368.06,120.57) rotate(-90) scale(1.227,1)" font-family='"Liberation Sans", sans-serif' font-size="18.75" font-weight="normal" fill="#111">,</text>
<text transform="translate(368.12,111.53) rotate(-90) scale(0.586,1)" font-family='"Liberation Serif", serif' font-size="18.03" font-weight="bold" fill="#111">Ω</text>
<text transform="translate(515.52,259.85) scale(0.818,1)" font-family='"Liberation Sans", sans-serif' font-size="13.33" font-weight="bold" fill="#111" stroke="#111" stroke-width="0.3">Z'</text>
<text transform="translate(524.73,259.56) scale(1.227,1)" font-family='"Liberation Sans", sans-serif' font-size="18.75" font-weight="normal" fill="#111">,</text>
<text transform="translate(533.06,259.91) scale(0.969,1)" font-family='"Liberation Serif", serif' font-size="14.24" font-weight="bold" fill="#111" stroke="#111" stroke-width="0.3">Ω</text>
<rect x="47.4" y="282.8" width="274.4" height="207" fill="none" stroke="#000" stroke-linejoin="round" stroke-width="2.3"/>
<line x1="65.28" y1="489.8" x2="65.28" y2="487" stroke="#000" stroke-width="1.1"/>
<line x1="88.6" y1="489.8" x2="88.6" y2="493.8" stroke="#000" stroke-width="1.3"/>
<text transform="translate(86.11,507.21) scale(0.880,1)" font-family='"Liberation Sans", sans-serif' font-size="10.3" font-weight="bold" fill="#111" stroke="#111" stroke-width="0.3">0</text>
<line x1="111.92" y1="489.8" x2="111.92" y2="487" stroke="#000" stroke-width="1.1"/>
<line x1="135.24" y1="489.8" x2="135.24" y2="493.8" stroke="#000" stroke-width="1.3"/>
<text transform="translate(127.72,507.21) scale(0.880,1)" font-family='"Liberation Sans", sans-serif' font-size="10.3" font-weight="bold" fill="#111" stroke="#111" stroke-width="0.3">200</text>
<line x1="158.56" y1="489.8" x2="158.56" y2="487" stroke="#000" stroke-width="1.1"/>
<line x1="181.88" y1="489.8" x2="181.88" y2="493.8" stroke="#000" stroke-width="1.3"/>
<text transform="translate(174.4,507.21) scale(0.880,1)" font-family='"Liberation Sans", sans-serif' font-size="10.3" font-weight="bold" fill="#111" stroke="#111" stroke-width="0.3">400</text>
<line x1="205.2" y1="489.8" x2="205.2" y2="487" stroke="#000" stroke-width="1.1"/>
<line x1="228.52" y1="489.8" x2="228.52" y2="493.8" stroke="#000" stroke-width="1.3"/>
<text transform="translate(220.95,507.21) scale(0.880,1)" font-family='"Liberation Sans", sans-serif' font-size="10.3" font-weight="bold" fill="#111" stroke="#111" stroke-width="0.3">600</text>
<line x1="251.84" y1="489.8" x2="251.84" y2="487" stroke="#000" stroke-width="1.1"/>
<line x1="275.16" y1="489.8" x2="275.16" y2="493.8" stroke="#000" stroke-width="1.3"/>
<text transform="translate(267.64,507.21) scale(0.880,1)" font-family='"Liberation Sans", sans-serif' font-size="10.3" font-weight="bold" fill="#111" stroke="#111" stroke-width="0.3">800</text>
<line x1="298.48" y1="489.8" x2="298.48" y2="487" stroke="#000" stroke-width="1.1"/>
<line x1="321.8" y1="489.8" x2="321.8" y2="493.8" stroke="#000" stroke-width="1.3"/>
<text transform="translate(311.65,507.21) scale(0.880,1)" font-family='"Liberation Sans", sans-serif' font-size="10.3" font-weight="bold" fill="#111" stroke="#111" stroke-width="0.3">1000</text>
<line x1="47.4" y1="475.08" x2="50.2" y2="475.08" stroke="#000" stroke-width="1.1"/>
<line x1="43.4" y1="457.6" x2="47.4" y2="457.6" stroke="#000" stroke-width="1.3"/>
<text transform="translate(34.38,461.15) scale(0.880,1)" font-family='"Liberation Sans", sans-serif' font-size="10.3" font-weight="bold" fill="#111" stroke="#111" stroke-width="0.3">0</text>
<line x1="47.4" y1="440.12" x2="50.2" y2="440.12" stroke="#000" stroke-width="1.1"/>
<line x1="43.4" y1="422.64" x2="47.4" y2="422.64" stroke="#000" stroke-width="1.3"/>
<text transform="translate(29.3,426.19) scale(0.880,1)" font-family='"Liberation Sans", sans-serif' font-size="10.3" font-weight="bold" fill="#111" stroke="#111" stroke-width="0.3">50</text>
<line x1="47.4" y1="405.16" x2="50.2" y2="405.16" stroke="#000" stroke-width="1.1"/>
<line x1="43.4" y1="387.68" x2="47.4" y2="387.68" stroke="#000" stroke-width="1.3"/>
<text transform="translate(24.23,391.23) scale(0.880,1)" font-family='"Liberation Sans", sans-serif' font-size="10.3" font-weight="bold" fill="#111" stroke="#111" stroke-width="0.3">100</text>
<line x1="47.4" y1="370.2" x2="50.2" y2="370.2" stroke="#000" stroke-width="1.1"/>
<line x1="43.4" y1="352.72" x2="47.4" y2="352.72" stroke="#000" stroke-width="1.3"/>
<text transform="translate(24.23,356.27) scale(0.880,1)" font-family='"Liberation Sans", sans-serif' font-size="10.3" font-weight="bold" fill="#111" stroke="#111" stroke-width="0.3">150</text>
<line x1="47.4" y1="335.24" x2="50.2" y2="335.24" stroke="#000" stroke-width="1.1"/>
<line x1="43.4" y1="317.76" x2="47.4" y2="317.76" stroke="#000" stroke-width="1.3"/>
<text transform="translate(24.23,321.31) scale(0.880,1)" font-family='"Liberation Sans", sans-serif' font-size="10.3" font-weight="bold" fill="#111" stroke="#111" stroke-width="0.3">200</text>
<line x1="47.4" y1="300.28" x2="50.2" y2="300.28" stroke="#000" stroke-width="1.1"/>
<line x1="43.4" y1="282.8" x2="47.4" y2="282.8" stroke="#000" stroke-width="1.3"/>
<text transform="translate(24.23,286.35) scale(0.880,1)" font-family='"Liberation Sans", sans-serif' font-size="10.3" font-weight="bold" fill="#111" stroke="#111" stroke-width="0.3">250</text>
<circle cx="166.5" cy="322.5" r="1.7" fill="#000"/>
<circle cx="159.9" cy="334.7" r="1.7" fill="#000"/>
<circle cx="153.9" cy="344.3" r="1.7" fill="#000"/>
<circle cx="148.1" cy="352.7" r="1.7" fill="#000"/>
<circle cx="142.5" cy="359.3" r="1.7" fill="#000"/>
<circle cx="136.9" cy="366.7" r="1.7" fill="#000"/>
<circle cx="131.8" cy="373.7" r="1.7" fill="#000"/>
<circle cx="127.2" cy="380.4" r="1.7" fill="#000"/>
<circle cx="122.8" cy="387.2" r="1.7" fill="#000"/>
<circle cx="118.4" cy="394.6" r="1.7" fill="#000"/>
<circle cx="115" cy="400.8" r="1.7" fill="#000"/>
<circle cx="112.2" cy="407" r="1.7" fill="#000"/>
<circle cx="109.5" cy="413" r="1.7" fill="#000"/>
<circle cx="107" cy="419" r="1.7" fill="#000"/>
<circle cx="104.8" cy="425" r="1.7" fill="#000"/>
<circle cx="102.8" cy="431" r="1.7" fill="#000"/>
<circle cx="101" cy="437" r="1.7" fill="#000"/>
<circle cx="99.8" cy="443" r="1.7" fill="#000"/>
<circle cx="99" cy="448" r="1.7" fill="#000"/>
<circle cx="99" cy="452.8" r="1.7" fill="#000"/>
<circle cx="97.8" cy="456" r="1.7" fill="#000"/>
<circle cx="155.5" cy="406.2" r="1.65" fill="#f00"/>
<circle cx="152.3" cy="404.6" r="1.65" fill="#f00"/>
<circle cx="149.2" cy="403" r="1.65" fill="#f00"/>
<circle cx="145.5" cy="401.5" r="1.65" fill="#f00"/>
<circle cx="142" cy="399.9" r="1.65" fill="#f00"/>
<circle cx="138.5" cy="398.6" r="1.65" fill="#f00"/>
<circle cx="134.8" cy="398" r="1.65" fill="#f00"/>
<circle cx="130.9" cy="397.6" r="1.65" fill="#f00"/>
<circle cx="127.2" cy="398.3" r="1.65" fill="#f00"/>
<circle cx="123.2" cy="399.4" r="1.65" fill="#f00"/>
<circle cx="119.4" cy="401.9" r="1.65" fill="#f00"/>
<circle cx="115.8" cy="405.4" r="1.65" fill="#f00"/>
<circle cx="112.6" cy="409.4" r="1.65" fill="#f00"/>
<circle cx="109.4" cy="413.7" r="1.65" fill="#f00"/>
<circle cx="107" cy="418.2" r="1.65" fill="#f00"/>
<circle cx="105" cy="422.9" r="1.65" fill="#f00"/>
<circle cx="103.1" cy="427.7" r="1.65" fill="#f00"/>
<circle cx="101.5" cy="431.7" r="1.65" fill="#f00"/>
<circle cx="100.2" cy="434.5" r="1.65" fill="#f00"/>
<circle cx="99" cy="437.3" r="1.65" fill="#f00"/>
<circle cx="98.2" cy="440.5" r="1.65" fill="#f00"/>
<circle cx="97.4" cy="444" r="1.65" fill="#f00"/>
<circle cx="96.6" cy="447.5" r="1.65" fill="#f00"/>
<circle cx="95.8" cy="451" r="1.65" fill="#f00"/>
<circle cx="95" cy="454" r="1.65" fill="#f00"/>
<circle cx="94.6" cy="457" r="1.65" fill="#f00"/>
<circle cx="280.2" cy="356.6" r="1.75" fill="#0000c0"/>
<circle cx="271.4" cy="365.5" r="1.75" fill="#0000c0"/>
<circle cx="264.5" cy="368.8" r="1.75" fill="#0000c0"/>
<circle cx="256.7" cy="369.6" r="1.75" fill="#0000c0"/>
<circle cx="247.5" cy="370.2" r="1.75" fill="#0000c0"/>
<circle cx="238.3" cy="371.1" r="1.75" fill="#0000c0"/>
<circle cx="229.3" cy="371.1" r="1.75" fill="#0000c0"/>
<circle cx="219.5" cy="370.7" r="1.75" fill="#0000c0"/>
<circle cx="208.9" cy="370.7" r="1.75" fill="#0000c0"/>
<circle cx="198.6" cy="371.3" r="1.75" fill="#0000c0"/>
<circle cx="188.2" cy="372.3" r="1.75" fill="#0000c0"/>
<circle cx="178" cy="375.2" r="1.75" fill="#0000c0"/>
<circle cx="167.8" cy="378.4" r="1.75" fill="#0000c0"/>
<circle cx="158.6" cy="382.9" r="1.75" fill="#0000c0"/>
<circle cx="150" cy="388" r="1.75" fill="#0000c0"/>
<circle cx="142" cy="393.5" r="1.75" fill="#0000c0"/>
<circle cx="134.8" cy="399.4" r="1.75" fill="#0000c0"/>
<circle cx="129" cy="405" r="1.75" fill="#0000c0"/>
<circle cx="123.7" cy="409.9" r="1.75" fill="#0000c0"/>
<circle cx="119" cy="415.8" r="1.75" fill="#0000c0"/>
<circle cx="115.3" cy="420.5" r="1.75" fill="#0000c0"/>
<circle cx="111.6" cy="424.5" r="1.75" fill="#0000c0"/>
<circle cx="108.6" cy="428.3" r="1.75" fill="#0000c0"/>
<circle cx="105.3" cy="432.1" r="1.75" fill="#0000c0"/>
<circle cx="104.38" cy="433.45" r="1.75" fill="#0000c0"/>
<circle cx="103.45" cy="434.8" r="1.75" fill="#0000c0"/>
<circle cx="102.52" cy="436.15" r="1.75" fill="#0000c0"/>
<circle cx="101.6" cy="437.5" r="1.75" fill="#0000c0"/>
<circle cx="100.78" cy="438.8" r="1.75" fill="#0000c0"/>
<circle cx="99.96" cy="440.1" r="1.75" fill="#0000c0"/>
<circle cx="99.14" cy="441.4" r="1.75" fill="#0000c0"/>
<circle cx="98.32" cy="442.7" r="1.75" fill="#0000c0"/>
<circle cx="97.5" cy="444" r="1.75" fill="#0000c0"/>
<circle cx="96.62" cy="445.5" r="1.75" fill="#0000c0"/>
<circle cx="95.75" cy="447" r="1.75" fill="#0000c0"/>
<circle cx="94.88" cy="448.5" r="1.75" fill="#0000c0"/>
<circle cx="94" cy="450" r="1.75" fill="#0000c0"/>
<circle cx="93.3" cy="451.26" r="1.75" fill="#0000c0"/>
<circle cx="92.6" cy="452.52" r="1.75" fill="#0000c0"/>
<circle cx="91.9" cy="453.78" r="1.75" fill="#0000c0"/>
<circle cx="91.2" cy="455.04" r="1.75" fill="#0000c0"/>
<circle cx="90.5" cy="456.3" r="1.75" fill="#0000c0"/>
<circle cx="235.8" cy="379.4" r="2" fill="#00e040"/>
<circle cx="226.6" cy="379.4" r="2" fill="#00e040"/>
<circle cx="216.4" cy="378.8" r="2" fill="#00e040"/>
<circle cx="206.2" cy="378.8" r="2" fill="#00e040"/>
<circle cx="196" cy="379.4" r="2" fill="#00e040"/>
<circle cx="185.2" cy="380.9" r="2" fill="#00e040"/>
<circle cx="174.9" cy="383.3" r="2" fill="#00e040"/>
<circle cx="164.7" cy="387" r="2" fill="#00e040"/>
<circle cx="155.7" cy="391.1" r="2" fill="#00e040"/>
<circle cx="146.8" cy="396.7" r="2" fill="#00e040"/>
<circle cx="139.1" cy="402" r="2" fill="#00e040"/>
<circle cx="132.5" cy="408.3" r="2" fill="#00e040"/>
<circle cx="126.1" cy="413.4" r="2" fill="#00e040"/>
<circle cx="121" cy="418.6" r="2" fill="#00e040"/>
<circle cx="116.2" cy="424.2" r="2" fill="#00e040"/>
<circle cx="112.2" cy="428.8" r="2" fill="#00e040"/>
<circle cx="108.9" cy="432.9" r="2" fill="#00e040"/>
<circle cx="105.9" cy="437.2" r="2" fill="#00e040"/>
<circle cx="105.04" cy="438.46" r="2" fill="#00e040"/>
<circle cx="104.18" cy="439.72" r="2" fill="#00e040"/>
<circle cx="103.32" cy="440.98" r="2" fill="#00e040"/>
<circle cx="102.46" cy="442.24" r="2" fill="#00e040"/>
<circle cx="101.6" cy="443.5" r="2" fill="#00e040"/>
<circle cx="100.78" cy="444.8" r="2" fill="#00e040"/>
<circle cx="99.96" cy="446.1" r="2" fill="#00e040"/>
<circle cx="99.14" cy="447.4" r="2" fill="#00e040"/>
<circle cx="98.32" cy="448.7" r="2" fill="#00e040"/>
<circle cx="97.5" cy="450" r="2" fill="#00e040"/>
<circle cx="96.75" cy="451.5" r="2" fill="#00e040"/>
<circle cx="96" cy="453" r="2" fill="#00e040"/>
<circle cx="95.25" cy="454.5" r="2" fill="#00e040"/>
<circle cx="94.5" cy="456" r="2" fill="#00e040"/>
<circle cx="92.75" cy="456.9" r="2" fill="#00e040"/>
<circle cx="91" cy="457.8" r="2" fill="#00e040"/>
<circle cx="89.5" cy="457.9" r="2" fill="#00e040"/>
<circle cx="88" cy="458" r="2" fill="#00e040"/>
<circle cx="260.8" cy="438.1" r="1.9" fill="#000"/>
<text transform="translate(276.88,441.16) scale(0.986,1)" font-family='"Liberation Sans", sans-serif' font-size="9.05" font-weight="bold" fill="#111" stroke="#111" stroke-width="0.3">5 min</text>
<circle cx="260.8" cy="450.4" r="1.9" fill="#f00"/>
<text transform="translate(276.71,453.76) scale(0.996,1)" font-family='"Liberation Sans", sans-serif' font-size="9.05" font-weight="bold" fill="#111" stroke="#111" stroke-width="0.3">1440 min</text>
<circle cx="260.8" cy="462.8" r="1.9" fill="#0000c0"/>
<text transform="translate(276.88,465.76) scale(1.006,1)" font-family='"Liberation Sans", sans-serif' font-size="8.92" font-weight="bold" fill="#111" stroke="#111" stroke-width="0.3">2880 min</text>
<circle cx="260.8" cy="474.9" r="1.9" fill="#00e040"/>
<text transform="translate(276.97,478.06) scale(0.989,1)" font-family='"Liberation Sans", sans-serif' font-size="9.05" font-weight="bold" fill="#111" stroke="#111" stroke-width="0.3">4320 min</text>
<text transform="translate(58.31,297.4) scale(1.099,1)" font-family='"Liberation Sans", sans-serif' font-size="11.91" font-weight="normal" fill="#444">(<tspan font-weight="bold" fill="#111">c</tspan>)</text>
<rect x="12.7" y="398.8" width="1.2" height="1.7" fill="#111"/>
<text transform="translate(16.65,397.2) rotate(-90) scale(0.663,1)" font-family='"Liberation Sans", sans-serif' font-size="12.61" font-weight="bold" fill="#111" stroke="#111" stroke-width="0.5">Z</text>
<rect x="7.8" y="387.7" width="1.8" height="1" fill="#222"/>
<rect x="7.8" y="388.8" width="1.8" height="1" fill="#222"/>
<text transform="translate(16.86,386.44) rotate(-90) scale(1.129,1)" font-family='"Liberation Sans", sans-serif' font-size="14.17" font-weight="normal" fill="#111">,</text>
<text transform="translate(17.86,377.86) rotate(-90) scale(0.510,1)" font-family='"Liberation Serif", serif' font-size="14.09" font-weight="bold" fill="#111">Ω</text>
<text transform="translate(172.26,526.55) scale(0.820,1)" font-family='"Liberation Sans", sans-serif' font-size="11.88" font-weight="bold" fill="#111" stroke="#111" stroke-width="0.3">Z'</text>
<text transform="translate(180.21,526.07) scale(1.172,1)" font-family='"Liberation Sans", sans-serif' font-size="17.92" font-weight="normal" fill="#111">,</text>
<text transform="translate(187.6,526.63) scale(1.056,1)" font-family='"Liberation Serif", serif' font-size="12.27" font-weight="bold" fill="#111" stroke="#111" stroke-width="0.3">Ω</text>
<rect x="397.4" y="288.6" width="276.6" height="208.2" fill="none" stroke="#000" stroke-linejoin="round" stroke-width="2.6"/>
<line x1="419.3" y1="496.8" x2="419.3" y2="494" stroke="#000" stroke-width="1.1"/>
<line x1="447.6" y1="496.8" x2="447.6" y2="500.8" stroke="#000" stroke-width="1.3"/>
<text transform="translate(445.11,515.01) scale(0.880,1)" font-family='"Liberation Sans", sans-serif' font-size="10.3" font-weight="bold" fill="#111" stroke="#111" stroke-width="0.3">0</text>
<line x1="475.9" y1="496.8" x2="475.9" y2="494" stroke="#000" stroke-width="1.1"/>
<line x1="504.2" y1="496.8" x2="504.2" y2="500.8" stroke="#000" stroke-width="1.3"/>
<text transform="translate(496.68,515.01) scale(0.880,1)" font-family='"Liberation Sans", sans-serif' font-size="10.3" font-weight="bold" fill="#111" stroke="#111" stroke-width="0.3">500</text>
<line x1="532.5" y1="496.8" x2="532.5" y2="494" stroke="#000" stroke-width="1.1"/>
<line x1="560.8" y1="496.8" x2="560.8" y2="500.8" stroke="#000" stroke-width="1.3"/>
<text transform="translate(550.65,515.01) scale(0.880,1)" font-family='"Liberation Sans", sans-serif' font-size="10.3" font-weight="bold" fill="#111" stroke="#111" stroke-width="0.3">1000</text>
<line x1="589.1" y1="496.8" x2="589.1" y2="494" stroke="#000" stroke-width="1.1"/>
<line x1="617.4" y1="496.8" x2="617.4" y2="500.8" stroke="#000" stroke-width="1.3"/>
<text transform="translate(607.25,515.01) scale(0.880,1)" font-family='"Liberation Sans", sans-serif' font-size="10.3" font-weight="bold" fill="#111" stroke="#111" stroke-width="0.3">1500</text>
<line x1="645.7" y1="496.8" x2="645.7" y2="494" stroke="#000" stroke-width="1.1"/>
<line x1="674" y1="496.8" x2="674" y2="500.8" stroke="#000" stroke-width="1.3"/>
<text transform="translate(663.98,515.01) scale(0.880,1)" font-family='"Liberation Sans", sans-serif' font-size="10.3" font-weight="bold" fill="#111" stroke="#111" stroke-width="0.3">2000</text>
<line x1="397.4" y1="486.29" x2="400.2" y2="486.29" stroke="#000" stroke-width="1.1"/>
<line x1="393.4" y1="473.1" x2="397.4" y2="473.1" stroke="#000" stroke-width="1.3"/>
<text transform="translate(383.78,476.65) scale(0.880,1)" font-family='"Liberation Sans", sans-serif' font-size="10.3" font-weight="bold" fill="#111" stroke="#111" stroke-width="0.3">0</text>
<line x1="397.4" y1="459.91" x2="400.2" y2="459.91" stroke="#000" stroke-width="1.1"/>
<line x1="393.4" y1="446.73" x2="397.4" y2="446.73" stroke="#000" stroke-width="1.3"/>
<text transform="translate(378.7,450.28) scale(0.880,1)" font-family='"Liberation Sans", sans-serif' font-size="10.3" font-weight="bold" fill="#111" stroke="#111" stroke-width="0.3">50</text>
<line x1="397.4" y1="433.54" x2="400.2" y2="433.54" stroke="#000" stroke-width="1.1"/>
<line x1="393.4" y1="420.36" x2="397.4" y2="420.36" stroke="#000" stroke-width="1.3"/>
<text transform="translate(373.63,423.91) scale(0.880,1)" font-family='"Liberation Sans", sans-serif' font-size="10.3" font-weight="bold" fill="#111" stroke="#111" stroke-width="0.3">100</text>
<line x1="397.4" y1="407.17" x2="400.2" y2="407.17" stroke="#000" stroke-width="1.1"/>
<line x1="393.4" y1="393.99" x2="397.4" y2="393.99" stroke="#000" stroke-width="1.3"/>
<text transform="translate(373.63,397.54) scale(0.880,1)" font-family='"Liberation Sans", sans-serif' font-size="10.3" font-weight="bold" fill="#111" stroke="#111" stroke-width="0.3">150</text>
<line x1="397.4" y1="380.8" x2="400.2" y2="380.8" stroke="#000" stroke-width="1.1"/>
<line x1="393.4" y1="367.61" x2="397.4" y2="367.61" stroke="#000" stroke-width="1.3"/>
<text transform="translate(373.63,371.17) scale(0.880,1)" font-family='"Liberation Sans", sans-serif' font-size="10.3" font-weight="bold" fill="#111" stroke="#111" stroke-width="0.3">200</text>
<line x1="397.4" y1="354.43" x2="400.2" y2="354.43" stroke="#000" stroke-width="1.1"/>
<line x1="393.4" y1="341.24" x2="397.4" y2="341.24" stroke="#000" stroke-width="1.3"/>
<text transform="translate(373.63,344.8) scale(0.880,1)" font-family='"Liberation Sans", sans-serif' font-size="10.3" font-weight="bold" fill="#111" stroke="#111" stroke-width="0.3">250</text>
<line x1="397.4" y1="328.06" x2="400.2" y2="328.06" stroke="#000" stroke-width="1.1"/>
<line x1="393.4" y1="314.87" x2="397.4" y2="314.87" stroke="#000" stroke-width="1.3"/>
<text transform="translate(373.63,318.42) scale(0.880,1)" font-family='"Liberation Sans", sans-serif' font-size="10.3" font-weight="bold" fill="#111" stroke="#111" stroke-width="0.3">300</text>
<line x1="397.4" y1="301.69" x2="400.2" y2="301.69" stroke="#000" stroke-width="1.1"/>
<line x1="393.4" y1="288.5" x2="397.4" y2="288.5" stroke="#000" stroke-width="1.3"/>
<text transform="translate(373.63,292.05) scale(0.880,1)" font-family='"Liberation Sans", sans-serif' font-size="10.3" font-weight="bold" fill="#111" stroke="#111" stroke-width="0.3">350</text>
<circle cx="486.5" cy="366.5" r="1.9" fill="#000"/>
<circle cx="482.8" cy="372.1" r="1.9" fill="#000"/>
<circle cx="479" cy="379.6" r="1.9" fill="#000"/>
<circle cx="476.2" cy="386.1" r="1.9" fill="#000"/>
<circle cx="472.8" cy="392.3" r="1.9" fill="#000"/>
<circle cx="469.7" cy="398.3" r="1.9" fill="#000"/>
<circle cx="467" cy="405" r="1.9" fill="#000"/>
<circle cx="464.5" cy="411" r="1.9" fill="#000"/>
<circle cx="462.3" cy="417" r="1.9" fill="#000"/>
<circle cx="460.3" cy="423" r="1.9" fill="#000"/>
<circle cx="458.5" cy="429" r="1.9" fill="#000"/>
<circle cx="456.8" cy="435" r="1.9" fill="#000"/>
<circle cx="455.3" cy="441" r="1.9" fill="#000"/>
<circle cx="454" cy="447" r="1.9" fill="#000"/>
<circle cx="452.8" cy="453" r="1.9" fill="#000"/>
<circle cx="451.8" cy="459" r="1.9" fill="#000"/>
<circle cx="451" cy="464" r="1.9" fill="#000"/>
<circle cx="450.3" cy="469" r="1.9" fill="#000"/>
<circle cx="495.5" cy="357.5" r="1.9" fill="#f00"/>
<circle cx="490.8" cy="360.3" r="1.9" fill="#f00"/>
<circle cx="486.5" cy="365.5" r="1.9" fill="#f00"/>
<circle cx="482.2" cy="368.9" r="1.9" fill="#f00"/>
<circle cx="478.1" cy="374.5" r="1.9" fill="#f00"/>
<circle cx="474" cy="380.1" r="1.9" fill="#f00"/>
<circle cx="470.2" cy="388" r="1.9" fill="#f00"/>
<circle cx="466.5" cy="394.6" r="1.9" fill="#f00"/>
<circle cx="463.5" cy="402" r="1.9" fill="#f00"/>
<circle cx="461" cy="409" r="1.9" fill="#f00"/>
<circle cx="459" cy="416" r="1.9" fill="#f00"/>
<circle cx="457" cy="423" r="1.9" fill="#f00"/>
<circle cx="455.3" cy="430" r="1.9" fill="#f00"/>
<circle cx="453.8" cy="437" r="1.9" fill="#f00"/>
<circle cx="452.5" cy="444" r="1.9" fill="#f00"/>
<circle cx="451.3" cy="451" r="1.9" fill="#f00"/>
<circle cx="450.3" cy="457" r="1.9" fill="#f00"/>
<circle cx="449.5" cy="463" r="1.9" fill="#f00"/>
<circle cx="448.8" cy="468" r="1.9" fill="#f00"/>
<circle cx="615.5" cy="322.7" r="2.2" fill="#00e040"/>
<circle cx="611" cy="328.8" r="2.2" fill="#00e040"/>
<circle cx="606.7" cy="331.9" r="2.2" fill="#00e040"/>
<circle cx="602.2" cy="333.3" r="2.2" fill="#00e040"/>
<circle cx="598.1" cy="332.9" r="2.2" fill="#00e040"/>
<circle cx="593" cy="331.5" r="2.2" fill="#00e040"/>
<circle cx="587.9" cy="328.8" r="2.2" fill="#00e040"/>
<circle cx="582.6" cy="325.4" r="2.2" fill="#00e040"/>
<circle cx="576.8" cy="320.9" r="2.2" fill="#00e040"/>
<circle cx="570.9" cy="316.2" r="2.2" fill="#00e040"/>
<circle cx="564.8" cy="311.7" r="2.2" fill="#00e040"/>
<circle cx="558" cy="307.6" r="2.2" fill="#00e040"/>
<circle cx="551.3" cy="304.7" r="2.2" fill="#00e040"/>
<circle cx="544.1" cy="303.1" r="2.2" fill="#00e040"/>
<circle cx="537.2" cy="302.7" r="2.2" fill="#00e040"/>
<circle cx="530" cy="303.9" r="2.2" fill="#00e040"/>
<circle cx="523.1" cy="306.3" r="2.2" fill="#00e040"/>
<circle cx="516.3" cy="310.4" r="2.2" fill="#00e040"/>
<circle cx="509.6" cy="315.5" r="2.2" fill="#00e040"/>
<circle cx="503.2" cy="322.1" r="2.2" fill="#00e040"/>
<circle cx="497.2" cy="330" r="2.2" fill="#00e040"/>
<circle cx="491.6" cy="339.3" r="2.2" fill="#00e040"/>
<circle cx="486.5" cy="349.3" r="2.2" fill="#00e040"/>
<circle cx="481.8" cy="359.6" r="2.2" fill="#00e040"/>
<circle cx="477.5" cy="369.9" r="2.2" fill="#00e040"/>
<circle cx="473.8" cy="380" r="2.2" fill="#00e040"/>
<circle cx="470.2" cy="389.5" r="2.2" fill="#00e040"/>
<circle cx="467.8" cy="398.3" r="2.2" fill="#00e040"/>
<circle cx="465.5" cy="406" r="2.2" fill="#00e040"/>
<circle cx="463.5" cy="413" r="2.2" fill="#00e040"/>
<circle cx="461.8" cy="420" r="2.2" fill="#00e040"/>
<circle cx="460.3" cy="427" r="2.2" fill="#00e040"/>
<circle cx="459" cy="433" r="2.2" fill="#00e040"/>
<circle cx="457.6" cy="440" r="2.2" fill="#00e040"/>
<circle cx="457.28" cy="441.4" r="2.2" fill="#00e040"/>
<circle cx="456.96" cy="442.8" r="2.2" fill="#00e040"/>
<circle cx="456.64" cy="444.2" r="2.2" fill="#00e040"/>
<circle cx="456.32" cy="445.6" r="2.2" fill="#00e040"/>
<circle cx="456" cy="447" r="2.2" fill="#00e040"/>
<circle cx="455.72" cy="448.4" r="2.2" fill="#00e040"/>
<circle cx="455.44" cy="449.8" r="2.2" fill="#00e040"/>
<circle cx="455.16" cy="451.2" r="2.2" fill="#00e040"/>
<circle cx="454.88" cy="452.6" r="2.2" fill="#00e040"/>
<circle cx="454.6" cy="454" r="2.2" fill="#00e040"/>
<circle cx="454.32" cy="455.4" r="2.2" fill="#00e040"/>
<circle cx="454.04" cy="456.8" r="2.2" fill="#00e040"/>
<circle cx="453.76" cy="458.2" r="2.2" fill="#00e040"/>
<circle cx="453.48" cy="459.6" r="2.2" fill="#00e040"/>
<circle cx="453.2" cy="461" r="2.2" fill="#00e040"/>
<circle cx="452.9" cy="462.65" r="2.2" fill="#00e040"/>
<circle cx="452.6" cy="464.3" r="2.2" fill="#00e040"/>
<circle cx="452.3" cy="465.95" r="2.2" fill="#00e040"/>
<circle cx="452" cy="467.6" r="2.2" fill="#00e040"/>
<circle cx="500.6" cy="305.1" r="1.9" fill="#0000c0"/>
<circle cx="494.9" cy="318.4" r="1.9" fill="#0000c0"/>
<circle cx="489.7" cy="331.8" r="1.9" fill="#0000c0"/>
<circle cx="485" cy="343.4" r="1.9" fill="#0000c0"/>
<circle cx="480.9" cy="354.3" r="1.9" fill="#0000c0"/>
<circle cx="477.2" cy="364.6" r="1.9" fill="#0000c0"/>
<circle cx="473.6" cy="374.5" r="1.9" fill="#0000c0"/>
<circle cx="470.2" cy="383.9" r="1.9" fill="#0000c0"/>
<circle cx="467.4" cy="392.7" r="1.9" fill="#0000c0"/>
<circle cx="464.8" cy="401" r="1.9" fill="#0000c0"/>
<circle cx="462.4" cy="409" r="1.9" fill="#0000c0"/>
<circle cx="460.2" cy="417" r="1.9" fill="#0000c0"/>
<circle cx="458.2" cy="425" r="1.9" fill="#0000c0"/>
<circle cx="456.4" cy="432" r="1.9" fill="#0000c0"/>
<circle cx="454.8" cy="439" r="1.9" fill="#0000c0"/>
<circle cx="454.48" cy="440.4" r="1.9" fill="#0000c0"/>
<circle cx="454.16" cy="441.8" r="1.9" fill="#0000c0"/>
<circle cx="453.84" cy="443.2" r="1.9" fill="#0000c0"/>
<circle cx="453.52" cy="444.6" r="1.9" fill="#0000c0"/>
<circle cx="453.2" cy="446" r="1.9" fill="#0000c0"/>
<circle cx="452.92" cy="447.4" r="1.9" fill="#0000c0"/>
<circle cx="452.64" cy="448.8" r="1.9" fill="#0000c0"/>
<circle cx="452.36" cy="450.2" r="1.9" fill="#0000c0"/>
<circle cx="452.08" cy="451.6" r="1.9" fill="#0000c0"/>
<circle cx="451.8" cy="453" r="1.9" fill="#0000c0"/>
<circle cx="451.56" cy="454.4" r="1.9" fill="#0000c0"/>
<circle cx="451.32" cy="455.8" r="1.9" fill="#0000c0"/>
<circle cx="451.08" cy="457.2" r="1.9" fill="#0000c0"/>
<circle cx="450.84" cy="458.6" r="1.9" fill="#0000c0"/>
<circle cx="450.6" cy="460" r="1.9" fill="#0000c0"/>
<circle cx="450.4" cy="461.5" r="1.9" fill="#0000c0"/>
<circle cx="450.2" cy="463" r="1.9" fill="#0000c0"/>
<circle cx="450" cy="464.5" r="1.9" fill="#0000c0"/>
<circle cx="449.8" cy="466" r="1.9" fill="#0000c0"/>
<circle cx="449.68" cy="467.65" r="1.9" fill="#0000c0"/>
<circle cx="449.55" cy="469.3" r="1.9" fill="#0000c0"/>
<circle cx="449.43" cy="470.95" r="1.9" fill="#0000c0"/>
<circle cx="449.3" cy="472.6" r="1.9" fill="#0000c0"/>
<circle cx="604.9" cy="441.1" r="2.1" fill="#000"/>
<text transform="translate(620.78,444.16) scale(1.077,1)" font-family='"Liberation Sans", sans-serif' font-size="8.51" font-weight="bold" fill="#111" stroke="#111" stroke-width="0.3">5 min</text>
<circle cx="604.9" cy="453.5" r="2.1" fill="#f00"/>
<text transform="translate(620.5,456.86) scale(1.065,1)" font-family='"Liberation Sans", sans-serif' font-size="8.65" font-weight="bold" fill="#111" stroke="#111" stroke-width="0.3">1440 min</text>
<circle cx="604.9" cy="466.1" r="2.1" fill="#0000c0"/>
<text transform="translate(620.78,469.46) scale(1.057,1)" font-family='"Liberation Sans", sans-serif' font-size="8.65" font-weight="bold" fill="#111" stroke="#111" stroke-width="0.3">2880 min</text>
<circle cx="604.9" cy="478.5" r="2.1" fill="#00e040"/>
<text transform="translate(620.87,481.56) scale(1.071,1)" font-family='"Liberation Sans", sans-serif' font-size="8.51" font-weight="bold" fill="#111" stroke="#111" stroke-width="0.3">4320 min</text>
<text transform="translate(408.33,305.66) scale(1.028,1)" font-family='"Liberation Sans", sans-serif' font-size="12.55" font-weight="normal" fill="#444">(<tspan fill="#111">d</tspan>)</text>
<rect x="361.7" y="406.7" width="1.6" height="2.8" fill="#111"/>
<text transform="translate(366.85,405.76) rotate(-90) scale(0.676,1)" font-family='"Liberation Sans", sans-serif' font-size="15.07" font-weight="bold" fill="#111" stroke="#111" stroke-width="0.5">Z</text>
<rect x="355.9" y="394.1" width="2.7" height="1" fill="#222"/>
<rect x="355.9" y="396.5" width="2.7" height="1" fill="#222"/>
<text transform="translate(367.16,392.37) rotate(-90) scale(0.693,1)" font-family='"Liberation Sans", sans-serif' font-size="18.75" font-weight="normal" fill="#111">,</text>
<text transform="translate(366.95,385.21) rotate(-90) scale(0.679,1)" font-family='"Liberation Serif", serif' font-size="15.15" font-weight="bold" fill="#111">Ω</text>
<text transform="translate(518.82,527.95) scale(0.875,1)" font-family='"Liberation Sans", sans-serif' font-size="12.46" font-weight="bold" fill="#111" stroke="#111" stroke-width="0.3">Z'</text>
<text transform="translate(528.03,527.96) scale(1.227,1)" font-family='"Liberation Sans", sans-serif' font-size="18.75" font-weight="normal" fill="#111">,</text>
<text transform="translate(536.23,528.02) scale(1.077,1)" font-family='"Liberation Serif", serif' font-size="13.33" font-weight="bold" fill="#111" stroke="#111" stroke-width="0.3">Ω</text>
</svg>
</body></html>
